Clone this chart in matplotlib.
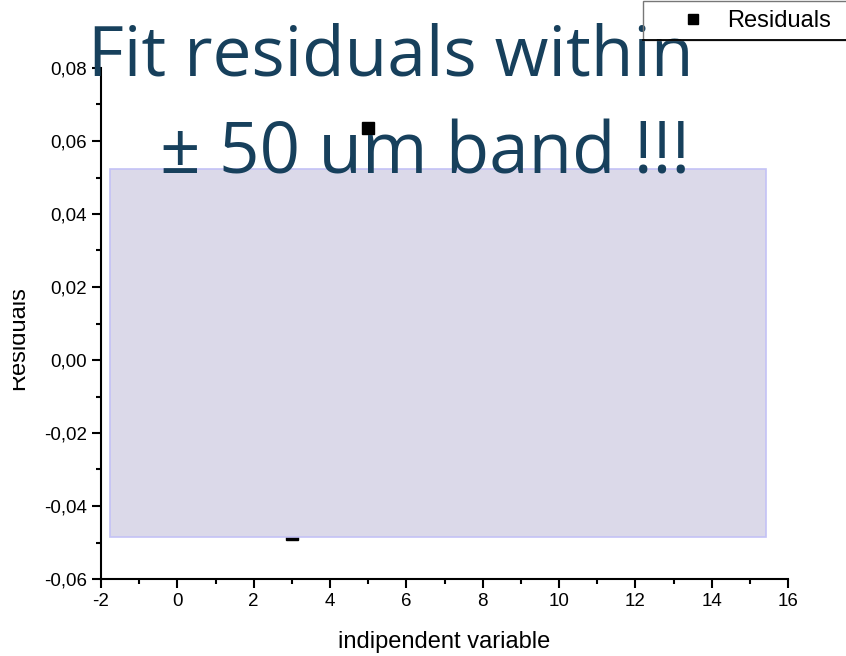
import matplotlib
matplotlib.use("Agg")
import matplotlib.pyplot as plt
from matplotlib.patches import Rectangle
from matplotlib.ticker import MultipleLocator, FuncFormatter
from matplotlib.lines import Line2D

# data
x_vals = [3, 5]
residuals = [-0.0478, 0.0636]
band_x = (-1.76, 15.42)
band_y = (-0.0485, 0.0523)
title_lines = ["Fit residuals within", "\u00b1 50 um band !!!"]

W, H = 846, 656
fig = plt.figure(figsize=(W / 100, H / 100), dpi=100)
ax = fig.add_axes([101 / W, 1 - 579 / H, (788 - 101) / W, (579 - 68) / H])

ax.plot(x_vals, residuals, "s", color="black", ms=8, zorder=2, label="Residuals")
ax.add_patch(Rectangle((band_x[0], band_y[0]), band_x[1] - band_x[0], band_y[1] - band_y[0],
                       facecolor="#dbd9e9", edgecolor="#c4c2f6", lw=1.2, zorder=3))

ax.set_xlim(-2, 16)
ax.set_ylim(-0.06, 0.08)
for s in ("top", "right"):
    ax.spines[s].set_visible(False)
for s in ("left", "bottom"):
    ax.spines[s].set_linewidth(1.5)
ax.xaxis.set_major_locator(MultipleLocator(2))
ax.xaxis.set_minor_locator(MultipleLocator(1))
ax.yaxis.set_major_locator(MultipleLocator(0.02))
ax.yaxis.set_minor_locator(MultipleLocator(0.01))
ax.xaxis.set_major_formatter(FuncFormatter(lambda v, p: f"{int(round(v))}"))
ax.yaxis.set_major_formatter(FuncFormatter(
    lambda v, p: f"{0 if abs(v) < 1e-9 else v:.2f}".replace(".", ",")))
ax.tick_params(which="major", length=6.5, width=1.5, labelsize=13.5,
               labelfontfamily="Liberation Sans")
ax.tick_params(which="minor", length=3.5, width=1.5)
ax.set_xlabel("indipendent variable", fontsize=17, family="Liberation Sans", labelpad=15)

# y label, partly clipped at the left edge
fig.text(18 / W, 1 - 338 / H, "Residuals", rotation=90, ha="center", va="center",
         fontsize=17, family="Liberation Sans")
fig.add_artist(Rectangle((0, 0), 13 / W, 1, transform=fig.transFigure,
                         facecolor="white", edgecolor="none", zorder=5))

# big overlay title
tcol = "#17405c"
fig.text(88 / W, 1 - 75 / H, title_lines[0], ha="left", va="baseline",
         fontsize=50, color=tcol, family="Open Sans", zorder=6)
fig.text(425 / W, 1 - 173 / H, title_lines[1], ha="center", va="baseline",
         fontsize=51, color=tcol, family="Open Sans", zorder=6)

# legend box at top right, cut by the figure edge
leg = ax.legend(loc="center left", bbox_to_anchor=(669 / W, 1 - 21 / H),
                bbox_transform=fig.transFigure, frameon=False, borderpad=0,
                handlelength=1.0, handletextpad=0.95, markerscale=0.85,
                prop={"family": "Liberation Sans", "size": 17})
leg.set_zorder(7)
fig.add_artist(Rectangle((643 / W, 1 - 40 / H), 210 / W, 39 / H, transform=fig.transFigure,
                         facecolor="none", edgecolor="#777777", lw=1, zorder=7))
fig.add_artist(Line2D([643 / W, 1], [1 - 40 / H, 1 - 40 / H], transform=fig.transFigure,
                      color="black", lw=1.3, zorder=8))

fig.savefig("out.png", dpi=100)
